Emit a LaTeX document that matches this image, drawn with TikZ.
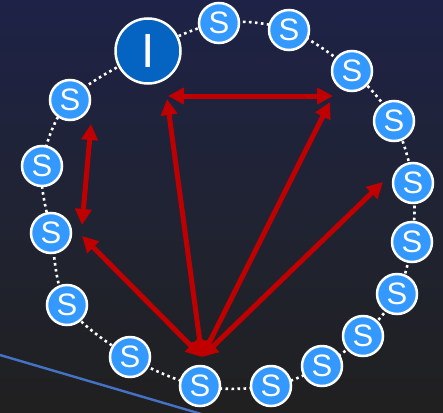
\documentclass[tikz,border=0pt]{standalone}
\usepackage{fontspec}
\setmainfont{Liberation Sans}
\usetikzlibrary{arrows.meta}
\definecolor{bgtop}{HTML}{1E2246}
\definecolor{bgmid}{HTML}{202333}
\definecolor{bgbot}{HTML}{202020}
\definecolor{sblue}{HTML}{3399FF}
\definecolor{iblue}{HTML}{0563C1}
\definecolor{linkred}{HTML}{C00000}
\definecolor{edgeblue}{HTML}{4472C4}
\tikzset{
  snode/.style={circle, fill=sblue, draw=white, line width=2.5pt, minimum size=40pt, inner sep=0pt,
    text=white, font=\fontsize{31}{31}\selectfont},
  inode/.style={circle, fill=iblue, draw=white, line width=2.5pt, minimum size=65pt, inner sep=0pt,
    text=white, font=\fontsize{48}{48}\selectfont},
  ring/.style={white, line width=2.6pt, dash pattern=on 2.6pt off 3.4pt},
  link/.style={linkred, line width=5pt,
    {Triangle[length=16pt,width=16pt]}-{Triangle[length=16pt,width=16pt]}},
  wire/.style={edgeblue, line width=2.4pt}
}
\begin{document}
\begin{tikzpicture}[x=1pt,y=-1pt]
  % background
  \useasboundingbox (0,0) rectangle (443,412);
  \shade[top color=bgtop, bottom color=bgbot, middle color=bgmid] (0,0) rectangle (443,412);

  % stray edge in the lower left
  \begin{scope}
    \clip (0,0) rectangle (443,412);
    \coordinate (w1) at (0,355);
    \coordinate (w2) at (215,418);
    \draw[wire] (w1) -- (w2);
  \end{scope}

  % dotted ring through the node centres
  \draw[ring] plot[smooth cycle, tension=0.55] coordinates {
    (148,51) (219,23) (289,30) (352,71) (394,121) (413,183) (412,242)
    (397,294) (363,336) (322,366) (271,386) (200,386) (130,357)
    (67,305) (51,233) (42,166) (70,100)};

  % nodes
  \node[inode] (i)   at (148,51)  {I};
  \node[snode] (s1)  at (219,23)  {S};
  \node[snode] (s2)  at (289,30)  {S};
  \node[snode] (s3)  at (352,71)  {S};
  \node[snode] (s4)  at (394,121) {S};
  \node[snode] (s5)  at (413,183) {S};
  \node[snode] (s6)  at (412,242) {S};
  \node[snode] (s7)  at (397,294) {S};
  \node[snode] (s8)  at (363,336) {S};
  \node[snode] (s9)  at (322,366) {S};
  \node[snode] (s10) at (271,386) {S};
  \node[snode] (s11) at (200,386) {S};
  \node[snode] (s12) at (130,357) {S};
  \node[snode] (s13) at (67,305)  {S};
  \node[snode] (s14) at (51,233)  {S};
  \node[snode] (s15) at (42,166)  {S};
  \node[snode] (s16) at (70,100)  {S};

  % arrow end points
  \coordinate (hub) at (202,357);
  \coordinate (hl) at (168,96);
  \coordinate (hr) at (333,96);
  \coordinate (ul) at (167,99);
  \coordinate (ur) at (330,102);
  \coordinate (rr) at (383,182);
  \coordinate (ll) at (82,236);
  \coordinate (vt) at (91,124);
  \coordinate (vb) at (82,225);

  % red links
  \draw[link] (hl) -- (hr);
  \draw[link] (vt) -- (vb);
  \draw[link] (hub) -- (ul);
  \draw[link] (hub) -- (ur);
  \draw[link] (hub) -- (rr);
  \draw[link] (hub) -- (ll);
\end{tikzpicture}
\end{document}
